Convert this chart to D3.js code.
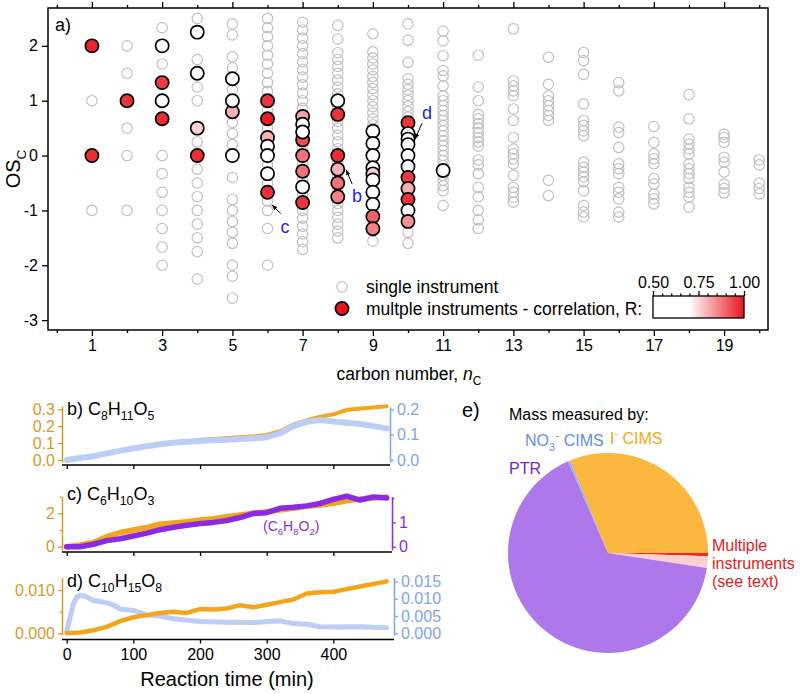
<!DOCTYPE html>
<html><head><meta charset="utf-8">
<script src="https://cdn.jsdelivr.net/npm/d3@7"></script>
<style>body{margin:0;background:#fff}svg{font-family:"Liberation Sans",Arial,sans-serif}</style>
</head><body><svg id="c" width="800" height="694"></svg>
<script>
// ---------- DATA ----------
// Panel a: single-instrument points, OSc values by carbon number 1..20
const singleOSc = [
  [1, -1],
  [2, 1.5, 0.5, 0, -1],
  [2.33, 1.67, 0, -0.33, -0.67, -1, -1.33, -1.67, -2],
  [2.5, 1.75, 1.25, 1, 0.25, -0.25, -0.5, -0.75, -1, -1.25, -1.5, -1.75, -2.25],
  [2.4, 2.2, 1.8, 1.6, 1.2, 0.6, 0.4, 0.2, -0.4, -0.8, -1, -1.2, -1.4, -1.6, -2, -2.2, -2.6],
  [2.5, 2.33, 2.17, 2, 1.83, 1.67, 1.5, 1.33, 1.17, 0.83, 0.5, -0.17, -0.5, -0.83, -1, -1.33, -2],
  [2.43, 2.29, 2.14, 2.0, 1.86, 1.71, 1.57, 1.43, 1.29, 1.14, 1.0, 0.86, 0.14, -0.14, -0.43, -0.71, -1.0, -1.14, -1.29, -1.43, -1.57, -1.71],
  [2.375, 2.125, 1.875, 1.75, 1.625, 1.5, 1.375, 1.25, 1.125, 0.875, 0.625, 0.5, 0.375, 0.25, 0.125, -0.125, -0.375, -0.625, -0.875, -1, -1.125, -1.25, -1.375, -1.5],
  [2.22, 1.89, 1.78, 1.67, 1.56, 1.44, 1.33, 1.22, 1.11, 1.0, 0.89, 0.78, 0.67, 0.56, -1.56],
  [2.4, 2.1, 1.7, 1.4, 1.3, 1.2, 1.1, 1.0, 0.9, 0.8, 0.7, -1.4, -1.6],
  [2.27, 2.09, 1.82, 1.55, 1.45, 1.27, 1.09, 1.0, 0.91, 0.82, 0.73, 0.64, 0.55, 0.45, 0.36, 0.27, 0.18, 0.09, 0, -0.09, -0.18, -0.36, -0.45, -0.55, -0.64, -0.91],
  [1.83, 1.25, 1.0, 0.75, 0.67, 0.58, 0.5, 0.42, 0.33, 0.25, 0.17, -0.08, -0.17, -0.33, -0.58, -0.75, -1.0, -1.17, -1.33],
  [2.31, 1.36, 1.27, 1.18, 1.09, 0.85, 0.64, 0.33, 0.12, 0.03, -0.06, -0.15, -0.36, -0.58, -0.67, -0.76, -0.85],
  [1.79, 1.3, 1.09, 1.0, 0.91, 0.82, 0.73, 0.64, -0.45, -0.73],
  [1.88, 1.73, 1.48, 0.94, 0.64, 0.55, 0.45, 0.36, -0.12, -0.21, -0.3, -0.39, -0.48, -0.64, -0.91, -1.03, -1.12],
  [1.33, 1.18, 0.52, 0.42, 0.15, -0.15, -0.24, -0.33, -0.58, -0.67, -0.79, -1.03, -1.12],
  [0.53, 0.24, 0.03, -0.06, -0.15, -0.42, -0.52, -0.7, -0.79, -0.88],
  [1.11, 0.67, 0.3, 0.21, 0.12, 0.03, -0.15, -0.24, -0.33, -0.42, -0.58, -0.67, -0.76, -0.94],
  [0.39, 0.33, 0.24, -0.03, -0.12, -0.3, -0.52, -0.6, -0.68],
  [-0.08, -0.17, -0.5, -0.6, -0.7]
];
// Panel a: multiple-instrument points
const multiNC  = [1,1, 2, 3,3,3,3, 4,4,4,4, 5,5,5,5, 6,6,6,6,6,6,6, 7,7,7,7,7,7,7,7, 8,8,8,8,8,8, 9,9,9,9,9,9,9,9,9,9, 10,10,10,10,10,10,10,10,10,10,10, 11];
const multiOSc = [2,0, 1, 2,1.33,1,0.67, 2.25,1.5,0.5,0, 1.4,0.8,1,0,
  1,0.67,0.33,0.17,0,-0.33,-0.67,
  0.714,0.571,0.286,0.429,0,-0.286,-0.571,-0.857,
  1,0.75,0,-0.25,-0.5,-0.75,
  0.444,0.222,0,-0.222,-0.333,-0.444,-0.667,-0.889,-1.111,-1.333,
  0.6,0.4,0.3,0.2,0,-0.2,-0.4,-0.6,-0.8,-1.0,-1.2,
  -0.273];
const multiR   = [0.98,0.97, 0.96, 0.6,0.95,0.6,0.97, 0.6,0.6,0.76,0.97, 0.6,0.8,0.6,0.6,
  0.96,0.99,0.8,0.6,0.6,0.6,0.96,
  0.82,0.6,0.93,0.6,0.88,0.88,0.6,0.96,
  0.6,0.96,0.97,0.8,0.88,0.86,
  0.6,0.6,0.6,0.6,0.76,0.6,0.6,0.6,0.9,0.86,
  0.96,0.6,0.6,0.6,0.6,0.6,0.95,0.8,0.96,0.6,0.84,
  0.6];
const xTicksA = d3.range(0, 21);
const yTicksA = [-3, -2, -1, 0, 1, 2];
const legendRTicks = [0.5, 0.75, 1.0];

// Panels b-d: time series
const timeMin = d3.range(0, 481, 20);
const bIodide  = [0,0.012,0.025,0.04,0.055,0.07,0.08,0.09,0.1,0.11,0.12,0.125,0.13,0.135,0.14,0.148,0.17,0.21,0.235,0.256,0.27,0.296,0.305,0.31,0.318];
const bNitrate = [0,0.008,0.015,0.026,0.036,0.046,0.054,0.062,0.068,0.072,0.075,0.078,0.08,0.083,0.086,0.09,0.105,0.134,0.151,0.158,0.152,0.147,0.142,0.134,0.125];
const cIodide  = [0,0.1,0.25,0.6,0.85,1.0,1.15,1.35,1.42,1.5,1.6,1.68,1.8,1.9,2.0,2.1,2.2,2.3,2.42,2.5,2.6,2.75,2.85,2.9,2.98];
const cPTR     = [0,0.0,0.1,0.25,0.33,0.44,0.56,0.7,0.8,0.88,0.95,1.0,1.08,1.2,1.37,1.4,1.58,1.62,1.68,1.78,1.95,2.08,1.92,2.05,2.0];
const dIodide  = [0,0.0002,0.0007,0.0015,0.0028,0.0037,0.0042,0.0047,0.005,0.0047,0.0056,0.0055,0.0057,0.0065,0.006,0.0066,0.0072,0.0078,0.0092,0.0095,0.0096,0.0102,0.0108,0.0114,0.012];
const dNitrateTime = [0,5,10,15,20,25,30,40,50,60,70,80,100,120,140,160,180,200,240,280,320,340,360,380,400,440,480];
const dNitrate = [0.0005,0.0045,0.0085,0.0105,0.011,0.0108,0.0105,0.0095,0.0092,0.0088,0.0082,0.007,0.0066,0.0053,0.005,0.0042,0.0038,0.0034,0.0032,0.0031,0.0036,0.0028,0.0026,0.0019,0.0018,0.0019,0.0016];
const timeTicks = [0, 100, 200, 300, 400];

// Panel e: pie
const pieLabels = ["I- CIMS", "Multiple (R high)", "Multiple (R low)", "PTR", "NO3- CIMS"];
const pieValues = [31.2, 0.5, 1.9, 66.05, 0.35];
const pieColors = ["#fbb73e", "#ee2a2a", "#fccfd0", "#ae78ea", "#92b3f2"];

// ---------- DRAW ----------
const svg = d3.select("#c");
const ORANGE = "#f5a51c", ORANGE_AX = "#d9982a", BLUE_LINE = "#bccdf6", BLUE_AX = "#7ea3ef", PURPLE = "#8a2be2";
const ANNOT = "#2626e0";

function rich(g, x, y, parts, o) {
  const t = g.append("text").attr("x", x).attr("y", y).attr("font-size", o.size)
    .attr("fill", o.fill || "#000").attr("text-anchor", o.anchor || "start");
  if (o.italic) t.attr("font-style", "italic");
  let cur = 0;
  parts.forEach(p => {
    const s = p[0], k = p[1] || "n";
    const off = k === "sub" ? o.size * 0.3 : k === "sup" ? -o.size * 0.42 : 0;
    const ts = t.append("tspan").attr("dy", off - cur).text(s);
    if (k !== "n") ts.attr("font-size", o.size * 0.68);
    if (p[2]) ts.attr("font-style", p[2]);
    if (p[3] !== undefined) ts.attr("dx", p[3]);
    cur = off;
  });
  return t;
}

// Panel a
const A = {l: 48, r: 768, t: 8, b: 330};
const x = d3.scaleLinear().domain([-0.25, 20.25]).range([A.l, A.r]);
const y = d3.scaleLinear().domain([-3.18, 2.69]).range([A.b, A.t]);
const colorR = d3.scaleLinear().domain([0.7, 1]).range(["#ffffff", "#e8141c"]).clamp(true);

const ga = svg.append("g");
const singles = [];
singleOSc.forEach((arr, i) => arr.forEach(v => singles.push({nc: i + 1, os: v})));
ga.selectAll("circle.s").data(singles).join("circle").attr("class", "s")
  .attr("cx", d => x(d.nc)).attr("cy", d => y(d.os)).attr("r", 5.2)
  .attr("fill", "none").attr("stroke", "#c0c0c0").attr("stroke-width", 1.2);
const multis = multiNC.map((n, i) => ({nc: n, os: multiOSc[i], r: multiR[i]}));
ga.selectAll("circle.m").data(multis).join("circle").attr("class", "m")
  .attr("cx", d => x(d.nc)).attr("cy", d => y(d.os)).attr("r", 6.6)
  .attr("fill", d => colorR(d.r)).attr("stroke", "#000").attr("stroke-width", 1.7);

// axes a
function styleAxis(g, size) {
  g.select(".domain").remove();
  g.selectAll(".tick line").attr("stroke", "#000").attr("stroke-width", 1.3);
  g.selectAll(".tick text").attr("font-size", size).attr("font-family", "Liberation Sans, Arial, sans-serif").attr("fill", "#000");
}
const major = xTicksA.filter(d => d % 2 === 1), minor = xTicksA.filter(d => d % 2 === 0);
ga.append("g").attr("transform", `translate(0,${A.b})`)
  .call(d3.axisBottom(x).tickValues(major).tickSize(6).tickPadding(4).tickFormat(d3.format("d"))).call(g => styleAxis(g, 16));
ga.append("g").attr("transform", `translate(0,${A.b})`)
  .call(d3.axisBottom(x).tickValues(minor).tickSize(3).tickFormat("")).call(g => styleAxis(g, 16));
ga.append("g").attr("transform", `translate(0,${A.t})`)
  .call(d3.axisTop(x).tickValues(major).tickSize(6).tickFormat("")).call(g => styleAxis(g, 16));
ga.append("g").attr("transform", `translate(0,${A.t})`)
  .call(d3.axisTop(x).tickValues(minor).tickSize(3).tickFormat("")).call(g => styleAxis(g, 16));
ga.append("g").attr("transform", `translate(${A.l},0)`)
  .call(d3.axisLeft(y).tickValues(yTicksA).tickSize(6).tickPadding(4).tickFormat(d => String(d))).call(g => styleAxis(g, 16));
ga.append("rect").attr("x", A.l).attr("y", A.t).attr("width", A.r - A.l).attr("height", A.b - A.t)
  .attr("fill", "none").attr("stroke", "#000").attr("stroke-width", 1.5);

ga.append("text").attr("x", 55).attr("y", 31).attr("font-size", 18).text("a)");
// axis titles
rich(ga, 409, 380, [["carbon number, "], ["n", "n", "italic"], ["C", "sub"]], {size: 17.5, anchor: "middle"});
const oy = ga.append("g").attr("transform", `translate(20,${(A.t + A.b) / 2}) rotate(-90)`);
rich(oy, 0, 0, [["OS"], ["C", "sub"]], {size: 20, anchor: "middle"});

// annotations (in data coords)
const annots = [
  {lab: "c", tail: [6.38, -1.06], tip: [6.13, -0.9], pos: [6.5, -1.42]},
  {lab: "b", tail: [8.41, -0.52], tip: [8.24, -0.26], pos: [8.55, -0.85]},
  {lab: "d", tail: [10.4, 0.59], tip: [10.2, 0.30], pos: [10.54, 0.66]}
];
svg.append("defs").append("marker").attr("id", "ah").attr("viewBox", "0 0 10 10")
  .attr("refX", 9).attr("refY", 5).attr("markerWidth", 6).attr("markerHeight", 6).attr("orient", "auto")
  .append("path").attr("d", "M0,1.5 L10,5 L0,8.5 Z").attr("fill", "#000");
annots.forEach(a => {
  ga.append("line").attr("x1", x(a.tail[0])).attr("y1", y(a.tail[1])).attr("x2", x(a.tip[0])).attr("y2", y(a.tip[1]))
    .attr("stroke", "#000").attr("stroke-width", 1).attr("marker-end", "url(#ah)");
  ga.append("text").attr("x", x(a.pos[0])).attr("y", y(a.pos[1])).attr("font-size", 18)
    .attr("fill", ANNOT).attr("text-anchor", "middle").text(a.lab);
});

// legend
ga.append("circle").attr("cx", 342).attr("cy", 287).attr("r", 5.2).attr("fill", "none").attr("stroke", "#c0c0c0").attr("stroke-width", 1.2);
ga.append("circle").attr("cx", 342).attr("cy", 308.5).attr("r", 6.6).attr("fill", colorR(1)).attr("stroke", "#000").attr("stroke-width", 1.7);
ga.append("text").attr("x", 366).attr("y", 293).attr("font-size", 17.5).text("single instrument");
ga.append("text").attr("x", 366).attr("y", 314.5).attr("font-size", 17.5).text("multple instruments - correlation, R:");
const lx = d3.scaleLinear().domain([0.5, 1.0]).range([653, 744]);
const grad = svg.select("defs").append("linearGradient").attr("id", "rg").attr("x1", "0%").attr("x2", "100%");
d3.range(0.5, 1.0001, 0.025).forEach(v => grad.append("stop").attr("offset", ((v - 0.5) / 0.5 * 100) + "%").attr("stop-color", colorR(v)));
ga.append("rect").attr("x", lx(0.5)).attr("y", 296).attr("width", lx(1) - lx(0.5)).attr("height", 22)
  .attr("fill", "url(#rg)").attr("stroke", "#000").attr("stroke-width", 1.3);
ga.append("g").attr("transform", "translate(0,296)")
  .call(d3.axisTop(lx).tickValues(legendRTicks).tickSize(5).tickPadding(3).tickFormat(d3.format(".2f"))).call(g => styleAxis(g, 16));
ga.append("g").attr("transform", "translate(0,296)")
  .call(d3.axisTop(lx).tickValues(d3.range(0.55, 1.0, 0.05).filter(v => Math.abs(v - 0.75) > 0.01)).tickSize(2.5).tickFormat("")).call(g => styleAxis(g, 16));

// Panels b-d
const xt = d3.scaleLinear().domain([0, 480]).range([66.7, 386.7]);
function sideAxis(g, scale, xpos, ticks, minors, fmt, color, left) {
  const ax = (left ? d3.axisLeft(scale) : d3.axisRight(scale));
  const gg = g.append("g").attr("transform", `translate(${xpos},0)`)
    .call(ax.tickValues(ticks).tickSize(4).tickSizeOuter(0).tickPadding(3).tickFormat(fmt));
  gg.select(".domain").attr("stroke", color).attr("stroke-width", 1.5);
  gg.selectAll(".tick line").attr("stroke", color).attr("stroke-width", 1.3);
  gg.selectAll(".tick text").attr("fill", color).attr("font-size", 16).attr("font-family", "Liberation Sans, Arial, sans-serif");
  if (minors.length) {
    const m = g.append("g").attr("transform", `translate(${xpos},0)`)
      .call((left ? d3.axisLeft(scale) : d3.axisRight(scale)).tickValues(minors).tickSize(2.5).tickFormat(""));
    m.select(".domain").remove();
    m.selectAll(".tick line").attr("stroke", color).attr("stroke-width", 1.2);
  }
}
function bottomAxis(g, ypos, x2, labels) {
  const gg = g.append("g").attr("transform", `translate(0,${ypos})`)
    .call(d3.axisBottom(xt).tickValues(timeTicks).tickSize(4).tickPadding(5).tickFormat(labels ? d3.format("d") : ""));
  gg.select(".domain").remove();
  gg.selectAll(".tick line").attr("stroke", "#000").attr("stroke-width", 1.3);
  gg.selectAll(".tick text").attr("font-size", 16).attr("fill", "#000").attr("font-family", "Liberation Sans, Arial, sans-serif");
  g.append("line").attr("x1", 62).attr("x2", x2).attr("y1", ypos).attr("y2", ypos).attr("stroke", "#000").attr("stroke-width", 1.3);
}
function series(g, xs, ys, scale, color, w) {
  const line = d3.line().x((d, i) => xt(xs[i])).y(d => scale(d));
  g.append("path").datum(ys).attr("d", line).attr("fill", "none").attr("stroke", color)
    .attr("stroke-width", w).attr("stroke-linejoin", "round").attr("stroke-linecap", "round");
}

// b
const gb = svg.append("g");
const yBL = d3.scaleLinear().domain([-0.012, 0.318]).range([462.03, 406.26]);
const yBR = d3.scaleLinear().domain([-0.008, 0.21]).range([462.02, 406.87]);
series(gb, timeMin, bIodide, yBL, ORANGE, 4);
series(gb, timeMin, bNitrate, yBR, BLUE_LINE, 6);
sideAxis(gb, yBL, 62, [0, 0.1, 0.2, 0.3], [], d3.format(".1f"), ORANGE_AX, true);
sideAxis(gb, yBR, 390, [0, 0.1, 0.2], [], d3.format(".1f"), BLUE_AX, false);
bottomAxis(gb, 465, 390, false);
rich(gb, 67, 415, [["b) C"], ["8", "sub"], ["H", "n"], ["11", "sub"], ["O", "n"], ["5", "sub"]], {size: 18});

// c
const gc = svg.append("g");
const yCL = d3.scaleLinear().domain([-0.2, 3.0]).range([550.04, 496.6]);
const yCR = d3.scaleLinear().domain([-0.13, 2.06]).range([549.86, 496.64]);
series(gc, timeMin, cIodide, yCL, ORANGE, 5.5);
series(gc, timeMin, cPTR, yCR, PURPLE, 5.5);
sideAxis(gc, yCL, 62, [0, 2], [1, 3], d3.format("d"), ORANGE_AX, true);
sideAxis(gc, yCR, 392, [0, 1], [2], d3.format("d"), PURPLE, false);
bottomAxis(gc, 552, 392, false);
rich(gc, 67, 500, [["c) C"], ["6", "sub"], ["H", "n"], ["10", "sub"], ["O", "n"], ["3", "sub"]], {size: 18});
rich(gc, 263, 531, [["(C"], ["6", "sub"], ["H", "n"], ["8", "sub"], ["O", "n"], ["2", "sub"], [")", "n"]], {size: 14, fill: PURPLE});

// d
const gd = svg.append("g");
const yDL = d3.scaleLinear().domain([-0.0004, 0.0128]).range([635.03, 577.88]);
const yDR = d3.scaleLinear().domain([-0.0005, 0.0161]).range([635.03, 577.59]);
series(gd, dNitrateTime, dNitrate, yDR, BLUE_LINE, 5);
series(gd, timeMin, dIodide, yDL, ORANGE, 4.5);
sideAxis(gd, yDL, 62, [0, 0.01], [0.005], d3.format(".3f"), ORANGE_AX, true);
sideAxis(gd, yDR, 394, [0, 0.005, 0.01, 0.015], [], d3.format(".3f"), BLUE_AX, false);
bottomAxis(gd, 639.5, 394, true);
rich(gd, 67, 587, [["d) C"], ["10", "sub"], ["H", "n"], ["15", "sub"], ["O", "n"], ["8", "sub"]], {size: 18});
gd.append("text").attr("x", 227).attr("y", 686).attr("text-anchor", "middle").attr("font-size", 20).text("Reaction time (min)");

// e pie
const ge = svg.append("g");
ge.append("text").attr("x", 462).attr("y", 417).attr("font-size", 20).text("e)");
const start = -22.3 * Math.PI / 180;
const pie = d3.pie().sort(null).value(d => d).startAngle(start).endAngle(start + 2 * Math.PI);
const arc = d3.arc().innerRadius(0).outerRadius(100);
ge.append("g").attr("transform", "translate(608,553)").selectAll("path").data(pie(pieValues)).join("path")
  .attr("d", arc).attr("fill", (d, i) => pieColors[i]);
ge.append("text").attr("x", 509).attr("y", 420).attr("font-size", 16).text("Mass measured by:");
rich(ge, 525, 446, [["NO"], ["3", "sub"], ["-", "sup", null, 0.5], [" CIMS", "n"]], {size: 16, fill: "#5f8ee8"});
rich(ge, 610, 444, [["I"], ["-", "sup"], [" CIMS", "n"]], {size: 16, fill: "#f2a623"});
ge.append("text").attr("x", 509).attr("y", 474).attr("font-size", 16).attr("fill", "#7a22d0").text("PTR");
[["Multiple", 551], ["instruments", 569], ["(see text)", 587]].forEach(([s, yy]) =>
  ge.append("text").attr("x", 712).attr("y", yy).attr("font-size", 16).attr("fill", "#e42020").text(s));
</script></body></html>
